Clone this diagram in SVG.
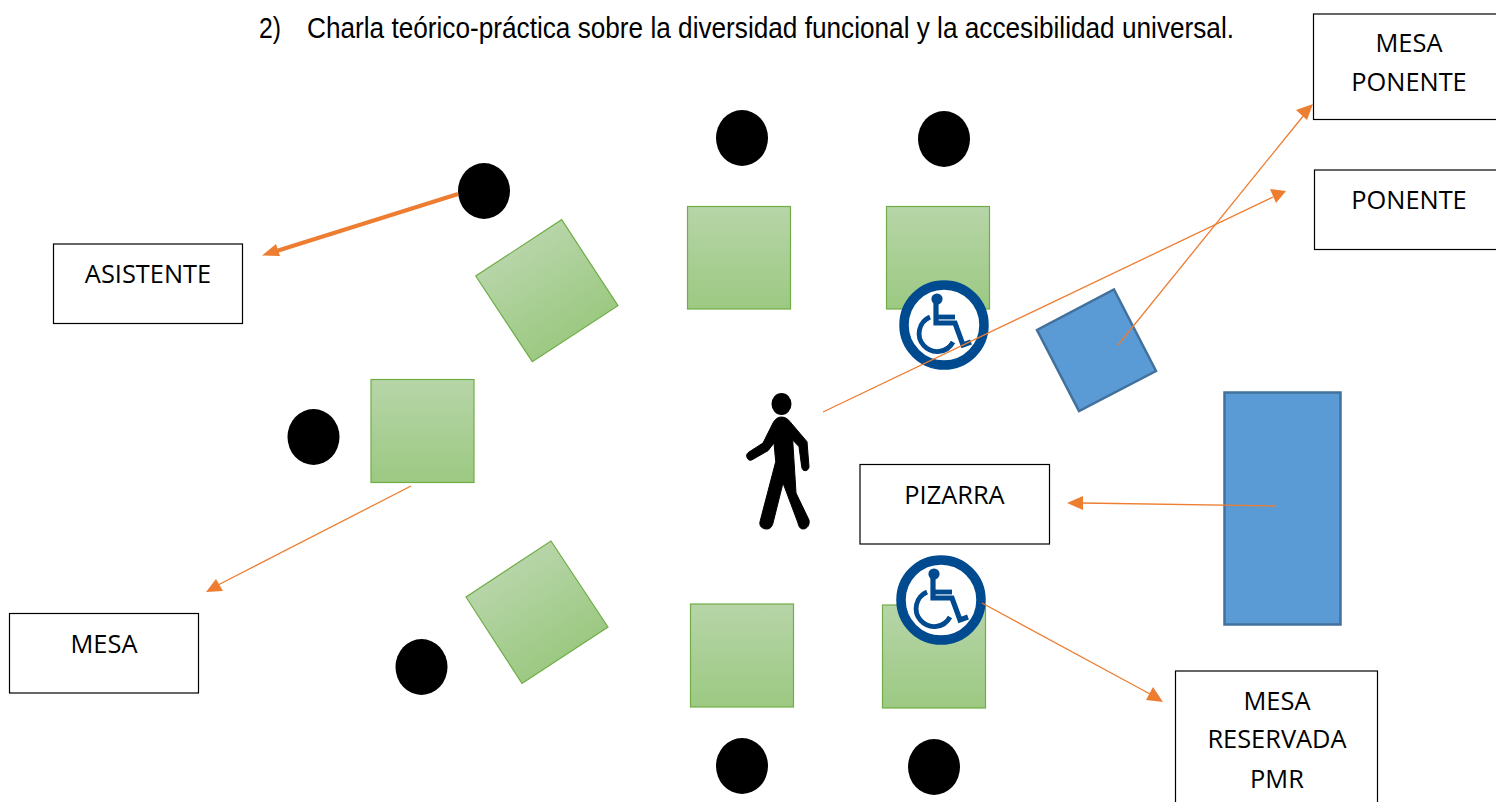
<svg xmlns="http://www.w3.org/2000/svg" width="1496" height="802" viewBox="0 0 1496 802">
<style>
.lbl{font-family:"Open Sans","Liberation Sans",sans-serif;font-size:25.4px;fill:#000;text-anchor:middle}
.box{fill:#fff;stroke:#000;stroke-width:1.2}
.mesa{stroke:#70ad47;stroke-width:1.2}
.blue{fill:#5b9bd5;stroke:#41719c;stroke-width:2.5}
.conn{fill:none;stroke:#ed7d31;stroke-width:1.3}
.head{fill:#ed7d31;stroke:none}
.title{font-family:"Liberation Sans",Arial,sans-serif;font-size:29.5px;fill:#000}
</style>
<defs>
<linearGradient id="g" x1="0" y1="0" x2="0" y2="1"><stop offset="0" stop-color="#b7d5a8"/><stop offset="1" stop-color="#9cc982"/></linearGradient>
<linearGradient id="g1" href="#g" gradientUnits="userSpaceOnUse" x1="518.700" y1="248" x2="575" y2="333.700"/>
<linearGradient id="g5" href="#g" gradientUnits="userSpaceOnUse" x1="508.500" y1="569" x2="565" y2="655"/>
<symbol id="wc" viewBox="-45 -45 90 90" width="90" height="90" overflow="visible">
<circle cx="0" cy="0" r="40" fill="#fff" stroke="#004a8f" stroke-width="9.5"/>
<g fill="none" stroke="#004a8f">
<path d="M-8-22V-2H11L19 20L27 17" stroke-width="5.2"/>
<path d="M-8-8H11" stroke-width="4.8"/>
<path d="M-14-8A18 18 0 1 0 9 17" stroke-width="4.8"/>
</g>
<circle cx="-7" cy="-26" r="5.6" fill="#004a8f"/>
</symbol>
</defs>
<rect width="1496" height="802" fill="#fff"/>
<g id="titulo">
<text class="title" x="259" y="38" textLength="22" lengthAdjust="spacingAndGlyphs">2)</text>
<text class="title" x="307" y="38" textLength="927" lengthAdjust="spacingAndGlyphs">Charla teórico-práctica sobre la diversidad funcional y la accesibilidad universal.</text>
</g>

<g id="mesa-1"><polygon class="mesa" fill="url(#g1)" points="561.7,219.7 618,305.7 532.3,361.7 475.7,276"/></g>
<g id="mesa-2"><rect class="mesa" fill="url(#g)" x="687.5" y="206.5" width="103" height="102.5"/></g>
<g id="mesa-3"><rect class="mesa" fill="url(#g)" x="886.5" y="206.5" width="103" height="102.5"/></g>
<g id="mesa-4"><rect class="mesa" fill="url(#g)" x="371" y="379.5" width="103" height="103"/></g>
<g id="mesa-5"><polygon class="mesa" fill="url(#g5)" points="551,541 608,627 522,683.5 466,597"/></g>
<g id="mesa-6"><rect class="mesa" fill="url(#g)" x="690.5" y="604" width="103" height="103"/></g>
<g id="mesa-7"><rect class="mesa" fill="url(#g)" x="882.5" y="605" width="103" height="103"/></g>

<g id="asistente-1"><ellipse cx="484" cy="191" rx="26" ry="28"/></g>
<g id="asistente-2"><ellipse cx="742" cy="138" rx="26" ry="28"/></g>
<g id="asistente-3"><ellipse cx="944" cy="139" rx="26" ry="28"/></g>
<g id="asistente-4"><ellipse cx="313.500" cy="437" rx="26" ry="28"/></g>
<g id="asistente-5"><ellipse cx="421.500" cy="667" rx="26" ry="28"/></g>
<g id="asistente-6"><ellipse cx="742" cy="766" rx="26" ry="28"/></g>
<g id="asistente-7"><ellipse cx="934" cy="767" rx="26" ry="28"/></g>

<g id="mesa-ponente"><polygon class="blue" points="1114,289.500 1156,371 1079,411 1037,330"/></g>
<g id="pizarra-forma"><rect class="blue" x="1224.500" y="392.500" width="116" height="232"/></g>

<g id="acceso-1"><use href="#wc" x="899" y="280"/></g>
<g id="acceso-2"><use href="#wc" x="896" y="555"/></g>

<g id="persona">
<ellipse cx="781.500" cy="404" rx="10" ry="11"/>
<path stroke="#000" stroke-width="1" d="M781.500 417C785 417 788 419 790 421.700L807 441.700L809 466.700C809 469 807 471 805 470.700C803 470.700 802 469 801.700 466.700L799 446.700L792.700 440L796 493L809 520C810 525 807 529 803 529C800 529 798.500 526 798 523L783 483L773 523C772 527 770 529 766.700 529C762 529 759 526 760 521.700L775.700 461.700L774 443L768 450.700L751.700 460C749 461 747 459 746.700 456C746.500 454 747.500 453 749 452L763 443L773 423C775 419 778 417 781.500 417Z"/>
</g>

<g id="connectors">
<path d="M458 194L275 251.500" fill="none" stroke="#ed7d31" stroke-width="4"/><polygon class="head" points="262,255.500 276,244 280,256"/>
<path class="conn" d="M411 486L218 585"/><polygon class="head" points="206,592 216,579 223,591"/>
<path class="conn" d="M823 412L1273 197"/><polygon class="head" points="1286,191 1270,189 1276,203"/>
<path class="conn" d="M1118 345L1304 115"/><polygon class="head" points="1313,104 1296,110 1307,120"/>
<path class="conn" d="M1276 506L1082 503"/><polygon class="head" points="1067,503 1083,496 1083,510"/>
<path class="conn" d="M982 603L1150 694"/><polygon class="head" points="1163,702 1146,700 1153,687"/>
</g>

<g id="caja-ponente-mesa"><rect class="box" x="1313.500" y="14" width="190" height="105.500"/><text class="lbl" x="1409" y="52">MESA</text><text class="lbl" x="1409" y="91">PONENTE</text></g>
<g id="caja-ponente"><rect class="box" x="1314.500" y="170" width="190" height="79.500"/><text class="lbl" x="1409" y="209">PONENTE</text></g>
<g id="caja-asistente"><rect class="box" x="53.500" y="244" width="189" height="79.500"/><text class="lbl" x="148" y="282.500">ASISTENTE</text></g>
<g id="caja-pizarra"><rect class="box" x="860" y="464.500" width="189.500" height="79.500"/><text class="lbl" x="954.500" y="503.500">PIZARRA</text></g>
<g id="caja-mesa"><rect class="box" x="9.500" y="613.500" width="189" height="79.500"/><text class="lbl" x="104" y="652.500">MESA</text></g>
<g id="caja-reservada"><rect class="box" x="1175.500" y="671" width="202" height="140"/><text class="lbl" x="1277" y="709.500">MESA</text><text class="lbl" x="1277" y="748">RESERVADA</text><text class="lbl" x="1277" y="787.500">PMR</text></g>
</svg>
